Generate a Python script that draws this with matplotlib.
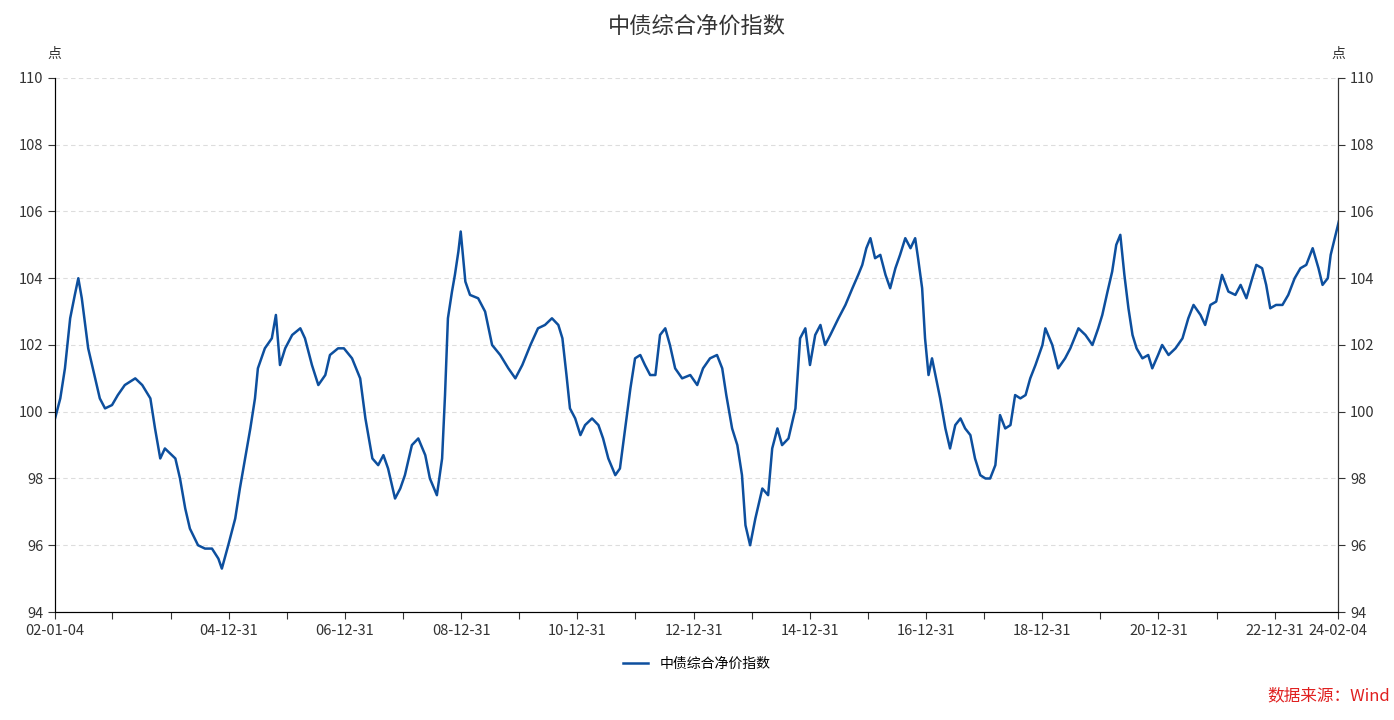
import matplotlib
matplotlib.use("Agg")
import matplotlib.pyplot as plt
from matplotlib.ticker import FixedLocator

plt.rcParams['font.family'] = ['Noto Sans CJK SC', 'DejaVu Sans']

title = "中债综合净价指数"
series_name = "中债综合净价指数"
source = "数据来源：Wind"

years = [2002.01,2002.10,2002.18,2002.27,2002.35,2002.41,2002.47,2002.58,2002.70,2002.78,2002.87,2002.99,
2003.09,2003.21,2003.39,2003.51,2003.65,2003.73,2003.82,2003.90,2004.08,2004.16,2004.25,2004.33,2004.47,
2004.59,2004.71,2004.82,2004.88,2004.99,2005.11,2005.19,2005.28,2005.37,2005.45,2005.50,2005.62,2005.74,
2005.81,2005.88,2005.97,2006.09,2006.23,2006.31,2006.43,2006.54,2006.66,2006.74,2006.88,2006.98,2007.12,
2007.26,2007.35,2007.47,2007.57,2007.66,2007.74,2007.86,2007.95,2008.03,2008.15,2008.26,2008.38,2008.46,
2008.58,2008.67,2008.72,2008.77,2008.84,2008.89,2008.95,2008.99,2009.07,2009.15,2009.29,2009.41,2009.53,
2009.67,2009.81,2009.93,2010.05,2010.19,2010.32,2010.44,2010.56,2010.67,2010.74,2010.81,2010.87,2010.96,
2011.05,2011.13,2011.25,2011.36,2011.44,2011.53,2011.65,2011.73,2011.82,2011.91,2011.99,2012.08,2012.16,
2012.25,2012.34,2012.42,2012.51,2012.59,2012.68,2012.80,2012.94,2013.06,2013.16,2013.28,2013.40,2013.49,
2013.56,2013.66,2013.75,2013.83,2013.89,2013.97,2014.06,2014.18,2014.28,2014.35,2014.44,2014.52,2014.63,
2014.75,2014.83,2014.92,2015.00,2015.09,2015.18,2015.26,2015.35,2015.49,2015.61,2015.73,2015.83,2015.90,
2015.97,2016.04,2016.12,2016.21,2016.30,2016.38,2016.47,2016.55,2016.64,2016.73,2016.81,2016.86,2016.93,
2016.98,2017.04,2017.10,2017.17,2017.24,2017.33,2017.41,2017.50,2017.59,2017.67,2017.76,2017.84,2017.93,
2018.02,2018.10,2018.19,2018.27,2018.36,2018.45,2018.53,2018.62,2018.71,2018.79,2018.88,2019.00,2019.05,
2019.17,2019.27,2019.39,2019.48,2019.62,2019.74,2019.86,2019.96,2020.03,2020.12,2020.20,2020.27,2020.34,
2020.41,2020.48,2020.55,2020.62,2020.72,2020.82,2020.89,2020.99,2021.06,2021.17,2021.29,2021.41,2021.51,
2021.60,2021.72,2021.80,2021.89,2021.99,2022.09,2022.20,2022.32,2022.41,2022.51,2022.61,2022.68,2022.78,
2022.85,2022.92,2023.02,2023.13,2023.23,2023.34,2023.44,2023.54,2023.65,2023.75,2023.82,2023.91,2023.96,
2024.03,2024.10]

values = [99.8,100.4,101.3,102.8,103.5,104.0,103.4,101.9,101.0,100.4,100.1,100.2,
100.5,100.8,101.0,100.8,100.4,99.5,98.6,98.9,98.6,98.0,97.1,96.5,96.0,
95.9,95.9,95.6,95.3,96.0,96.8,97.7,98.6,99.5,100.4,101.3,101.9,102.2,
102.9,101.4,101.9,102.3,102.5,102.2,101.4,100.8,101.1,101.7,101.9,101.9,101.6,
101.0,99.8,98.6,98.4,98.7,98.3,97.4,97.7,98.1,99.0,99.2,98.7,98.0,
97.5,98.6,100.5,102.8,103.6,104.1,104.8,105.4,103.9,103.5,103.4,103.0,102.0,
101.7,101.3,101.0,101.4,102.0,102.5,102.6,102.8,102.6,102.2,101.1,100.1,99.8,
99.3,99.6,99.8,99.6,99.2,98.6,98.1,98.3,99.5,100.7,101.6,101.7,101.4,
101.1,101.1,102.3,102.5,102.0,101.3,101.0,101.1,100.8,101.3,101.6,101.7,101.3,
100.5,99.5,99.0,98.1,96.6,96.0,96.8,97.7,97.5,98.9,99.5,99.0,99.2,
100.1,102.2,102.5,101.4,102.3,102.6,102.0,102.3,102.8,103.2,103.7,104.1,104.4,
104.9,105.2,104.6,104.7,104.1,103.7,104.3,104.7,105.2,104.9,105.2,104.6,103.7,
102.2,101.1,101.6,101.0,100.4,99.5,98.9,99.6,99.8,99.5,99.3,98.6,98.1,
98.0,98.0,98.4,99.9,99.5,99.6,100.5,100.4,100.5,101.0,101.4,102.0,102.5,
102.0,101.3,101.6,101.9,102.5,102.3,102.0,102.5,102.9,103.6,104.2,105.0,105.3,
104.1,103.1,102.3,101.9,101.6,101.7,101.3,101.7,102.0,101.7,101.9,102.2,102.8,
103.2,102.9,102.6,103.2,103.3,104.1,103.6,103.5,103.8,103.4,104.0,104.4,104.3,
103.8,103.1,103.2,103.2,103.5,104.0,104.3,104.4,104.9,104.3,103.8,104.0,104.7,
105.2,105.7]

tick_pos = [2002.01] + [y + 0.997 for y in range(2002, 2023)] + [2024.09]
tick_labels = ["02-01-04"] + [f"{(y) % 100:02d}-12-31" if (y % 2 == 0) else "" for y in range(2002, 2023)] + ["24-02-04"]
tick_labels[1] = ""  # 02-12-31 not labelled

line_color = "#0d4f9e"
fig = plt.figure(figsize=(13.94, 7.2), dpi=100)
ax = fig.add_axes([0.0395, 0.15, 0.9205, 0.7417])
ax.plot(years, values, color=line_color, lw=1.8, label=series_name)
ax.set_xlim(2002.01, 2024.09)
ax.set_ylim(94, 110)
ax.set_yticks(range(94, 111, 2))
ax.grid(axis='y', color='#dddddd', ls=(0, (4, 3)), lw=0.8)
ax.set_xticks(tick_pos)
ax.set_xticklabels(tick_labels)
for s in ['top']:
    ax.spines[s].set_visible(False)
for s in ['left', 'right', 'bottom']:
    ax.spines[s].set_color('#333333')
ax.tick_params(axis='both', labelsize=10.5, colors='#333333', length=5)
ax.tick_params(axis='y', right=True)
ax2 = ax.twinx()
ax2.set_ylim(94, 110)
ax2.set_yticks(range(94, 111, 2))
ax2.tick_params(axis='y', labelsize=10.5, colors='#333333', length=5)
ax2.spines['top'].set_visible(False)
ax2.spines['right'].set_color('#333333')

fig.text(0.5, 0.962, title, ha='center', va='center', fontsize=16, color='#333333')
fig.text(0.039, 0.925, "点", ha='center', va='center', fontsize=10, color='#333333')
fig.text(0.960, 0.925, "点", ha='center', va='center', fontsize=10, color='#333333')
ax.legend(loc='upper center', bbox_to_anchor=(0.5, -0.06), frameon=False, fontsize=10,
          handlelength=1.8)
fig.text(0.997, 0.033, source, ha='right', va='center', fontsize=12, color='#e02020')
fig.savefig("out.png", dpi=100)
